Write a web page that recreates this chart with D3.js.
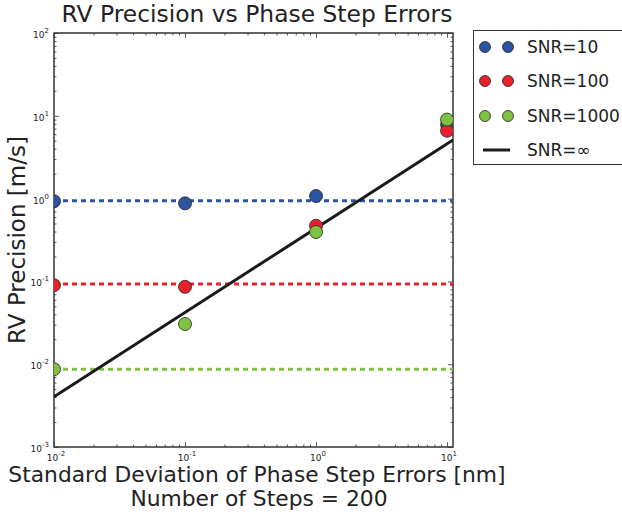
<!DOCTYPE html>
<html>
<head>
<meta charset="utf-8">
<script src="https://cdn.jsdelivr.net/npm/d3@7"></script>
<style>
  body { margin: 0; background: #fff; }
  svg { font-family: "DejaVu Sans", sans-serif; }
</style>
</head>
<body>
<div id="chart"></div>
<script>
// data
const stepErrors = [0.01, 0.1, 1, 10];
const snr10 = [0.93, 0.877, 1.075, 7.8];
const snr100 = [0.09, 0.086, 0.47, 6.6];
const snr1000 = [0.0087, 0.0306, 0.395, 9.0];
const noiseFloors = [0.943, 0.093, 0.0087];   // dotted levels for SNR 10/100/1000
const infLineX = [0.01, 11.1];
const infLineY = [0.00404, 5.1];
const xTicks = [0.01, 0.1, 1, 10];
const yTicks = [0.001, 0.01, 0.1, 1, 10, 100];
const seriesNames = ["SNR=10", "SNR=100", "SNR=1000"];
const colors = ["#2c54a2", "#e8212a", "#7fc241"];

const width = 622, height = 514;
const plot = { left: 54, right: 453, top: 33, bottom: 447 };

const svg = d3.select("#chart").append("svg")
  .attr("width", width)
  .attr("height", height);

const x = d3.scaleLog().domain([0.01, 11.1]).range([plot.left, plot.right]);
const y = d3.scaleLog().domain([0.001, 100]).range([plot.bottom, plot.top]);

svg.append("defs").append("clipPath").attr("id", "clip")
  .append("rect")
  .attr("x", plot.left).attr("y", plot.top)
  .attr("width", plot.right - plot.left).attr("height", plot.bottom - plot.top);

const isMajor = v => Math.abs(Math.log10(v) - Math.round(Math.log10(v))) < 1e-6;
const xMinor = x.ticks().filter(v => !isMajor(v));
const yMinor = y.ticks().filter(v => !isMajor(v));

// ticks on all four sides, pointing inward
function tickAxis(axisFn, scale, values, size, tx, ty) {
  const g = svg.append("g")
    .attr("transform", "translate(" + tx + "," + ty + ")")
    .call(axisFn(scale).tickValues(values).tickSize(-size).tickFormat(""));
  g.select(".domain").remove();
  g.selectAll("line").attr("stroke", "#333").attr("stroke-width", 0.8);
}
tickAxis(d3.axisBottom, x, xMinor, 2.5, 0, plot.bottom);
tickAxis(d3.axisBottom, x, xTicks, 5, 0, plot.bottom);
tickAxis(d3.axisTop, x, xMinor, 2.5, 0, plot.top);
tickAxis(d3.axisTop, x, xTicks, 5, 0, plot.top);
tickAxis(d3.axisLeft, y, yMinor, 2.5, plot.left, 0);
tickAxis(d3.axisLeft, y, yTicks, 5, plot.left, 0);
tickAxis(d3.axisRight, y, yMinor, 2.5, plot.right, 0);
tickAxis(d3.axisRight, y, yTicks, 5, plot.right, 0);

// frame
svg.append("rect")
  .attr("x", plot.left).attr("y", plot.top)
  .attr("width", plot.right - plot.left).attr("height", plot.bottom - plot.top)
  .attr("fill", "none").attr("stroke", "#333").attr("stroke-width", 1.5);

// tick labels as 10^n
function powLabel(sel, v) {
  sel.append("tspan").text("10");
  sel.append("tspan").attr("dy", -5).attr("font-size", 7).text(Math.round(Math.log10(v)));
}
svg.append("g").selectAll("text").data(xTicks).join("text")
  .attr("x", d => x(d) + 2)
  .attr("y", plot.bottom + 14)
  .attr("text-anchor", "middle")
  .attr("font-size", 9)
  .attr("fill", "#222")
  .each(function(d) { powLabel(d3.select(this), d); });
svg.append("g").selectAll("text").data(yTicks).join("text")
  .attr("x", plot.left - 5)
  .attr("y", d => y(d) + 5)
  .attr("text-anchor", "end")
  .attr("font-size", 9)
  .attr("fill", "#222")
  .each(function(d) { powLabel(d3.select(this), d); });

const body = svg.append("g").attr("clip-path", "url(#clip)");

// dotted noise floors
body.selectAll(".floor").data(noiseFloors).join("line")
  .attr("x1", x(0.01)).attr("x2", x(11.1))
  .attr("y1", d => y(d)).attr("y2", d => y(d))
  .attr("stroke", (d, i) => colors[i])
  .attr("stroke-width", 3)
  .attr("stroke-dasharray", "5,4");

// SNR = infinity line
const line = d3.line().x(d => x(d[0])).y(d => y(d[1]));
body.append("path")
  .datum(d3.zip(infLineX, infLineY))
  .attr("d", line)
  .attr("fill", "none")
  .attr("stroke", "#1a1a1a")
  .attr("stroke-width", 3);

// markers
const series = [snr10, snr100, snr1000];
series.forEach((vals, i) => {
  body.append("g").selectAll("circle")
    .data(d3.zip(stepErrors, vals)).join("circle")
    .attr("cx", d => x(d[0]))
    .attr("cy", d => y(d[1]))
    .attr("r", 6.5)
    .attr("fill", colors[i])
    .attr("stroke", "#222")
    .attr("stroke-width", 0.8);
});

// titles
svg.append("text")
  .attr("x", 257).attr("y", 22)
  .attr("text-anchor", "middle").attr("font-size", 23.4).attr("fill", "#222")
  .text("RV Precision vs Phase Step Errors");
svg.append("text")
  .attr("x", 257).attr("y", 482)
  .attr("text-anchor", "middle").attr("font-size", 21.8).attr("fill", "#222")
  .text("Standard Deviation of Phase Step Errors [nm]");
svg.append("text")
  .attr("x", 259).attr("y", 506)
  .attr("text-anchor", "middle").attr("font-size", 21.8).attr("fill", "#222")
  .text("Number of Steps = 200");
svg.append("text")
  .attr("transform", "translate(25," + ((plot.top + plot.bottom) / 2) + ") rotate(-90)")
  .attr("text-anchor", "middle").attr("font-size", 23).attr("fill", "#222")
  .text("RV Precision [m/s]");

// legend
const legend = svg.append("g");
legend.append("rect")
  .attr("x", 473.5).attr("y", 30.5).attr("width", 160).attr("height", 134)
  .attr("fill", "#fff").attr("stroke", "#333").attr("stroke-width", 1);
const legendRows = [47, 81, 116];
seriesNames.forEach((name, i) => {
  [485, 508].forEach(cx => {
    legend.append("circle")
      .attr("cx", cx).attr("cy", legendRows[i]).attr("r", 5.5)
      .attr("fill", colors[i]).attr("stroke", "#222").attr("stroke-width", 0.8);
  });
  legend.append("text")
    .attr("x", 527).attr("y", legendRows[i] + 6)
    .attr("font-size", 17).attr("fill", "#222").text(name);
});
legend.append("line")
  .attr("x1", 483).attr("x2", 510).attr("y1", 150).attr("y2", 150)
  .attr("stroke", "#1a1a1a").attr("stroke-width", 3);
legend.append("text")
  .attr("x", 527).attr("y", 156)
  .attr("font-size", 17).attr("fill", "#222").text("SNR=∞");
</script>
</body>
</html>
